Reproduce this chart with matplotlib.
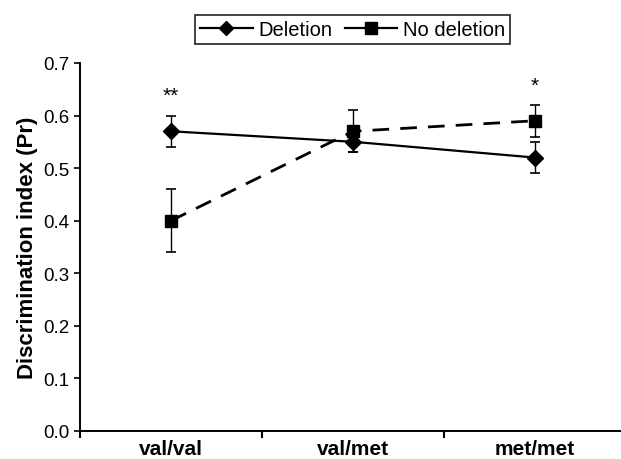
import matplotlib
matplotlib.use("Agg")
import matplotlib.pyplot as plt
from matplotlib.lines import Line2D
import numpy as np

plt.rcParams["font.family"] = ["Liberation Sans", "DejaVu Sans"]

# Data
genotypes = ["val/val", "val/met", "met/met"]
deletion = [0.57, 0.55, 0.52]
deletion_err = [0.03, 0.02, 0.03]
no_deletion = [0.40, 0.57, 0.59]
no_deletion_err = [0.06, 0.04, 0.03]
stars = ["**", "", "*"]

x = np.arange(len(genotypes))

fig = plt.figure(figsize=(6.21, 4.6), dpi=100)
ax = fig.add_axes([0.129, 0.061, 0.879, 0.800])

ax.errorbar(x, deletion, yerr=deletion_err, color="black", lw=1.6,
            marker="D", markersize=8, capsize=3.5, elinewidth=1,
            capthick=1.2)
ax.errorbar(x, no_deletion, yerr=no_deletion_err, color="black", lw=2,
            ls=(0, (6, 4)), marker="s", markersize=9, capsize=3.5,
            elinewidth=1, capthick=1.2)

# significance stars above the highest error bar
for i, s in enumerate(stars):
    if s:
        top = max(deletion[i] + deletion_err[i], no_deletion[i] + no_deletion_err[i])
        ax.text(x[i], top + 0.02, s, ha="center", va="bottom", fontsize=15)

ax.set_xlim(-0.5, 2.5)
ax.set_ylim(0, 0.7)
yt = np.arange(0, 0.71, 0.1)
ax.set_yticks(yt)
ax.set_yticklabels([f"{v:.1f}" for v in yt], fontsize=13.5)
ax.set_xticks(x)
ax.set_xticklabels(genotypes, fontsize=15, fontweight="bold")
ax.tick_params(axis="x", length=0, pad=6)
ax.set_xticks([-0.5, 0.5, 1.5, 2.5], minor=True)
ax.tick_params(axis="x", which="minor", direction="out", length=5, width=1.5)
ax.tick_params(axis="y", direction="out", length=4, width=1.2)
ax.set_ylabel("Discrimination index (Pr)", fontsize=16, fontweight="bold")

ax.spines["top"].set_visible(False)
ax.spines["right"].set_visible(False)
ax.spines["left"].set_linewidth(1.4)
ax.spines["bottom"].set_linewidth(1.4)

handles = [
    Line2D([], [], color="black", lw=1.6, marker="D", markersize=7),
    Line2D([], [], color="black", lw=1.6, marker="s", markersize=8),
]
leg = fig.legend(handles, ["Deletion", "No deletion"], loc="center",
                 bbox_to_anchor=(0.568, 0.934), ncol=2, frameon=True,
                 fancybox=False, edgecolor="black", fontsize=14.5,
                 handlelength=2.6, columnspacing=0.6, handletextpad=0.3,
                 borderpad=0.25, borderaxespad=0)
leg.get_frame().set_linewidth(1.3)

fig.savefig("out.png", dpi=100)
